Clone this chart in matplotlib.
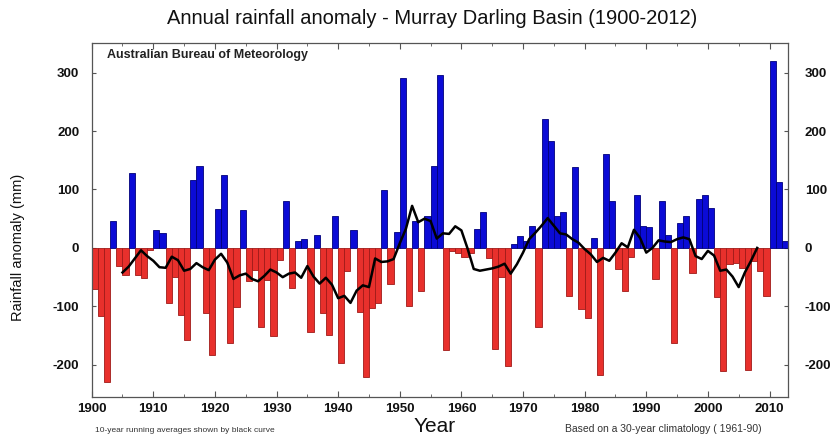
import matplotlib
matplotlib.use("Agg")
import matplotlib.pyplot as plt
from matplotlib.ticker import MultipleLocator

plt.rcParams['font.family'] = ['Liberation Sans', 'DejaVu Sans']
plt.rcParams['axes.unicode_minus'] = False

first_year = 1900
anomaly_mm = [
    -70, -116, -229, 46, -31, -46, 129, -46, -51, -3,          # 1900s
    31, 25, -94, -49, -114, -157, 117, 141, -111, -183,        # 1910s
    66, 125, -162, -101, 65, -57, -37, -135, -55, -151,        # 1920s
    -20, 80, -68, 12, 15, -143, 22, -111, -149, 54,            # 1930s
    -197, -40, 30, -110, -220, -103, -95, 99, -61, 27,         # 1940s
    290, -100, 46, -73, 54, 140, 296, -175, -5, -9,            # 1950s
    -15, -9, 32, 62, -17, -173, -50, -202, 7, 20,              # 1960s
    11, 38, -135, 220, 183, 54, 61, -83, 139, -105,            # 1970s
    -120, 17, -218, 160, 80, -36, -74, -15, 91, 38,            # 1980s
    35, -54, 80, 22, -162, 43, 55, -43, 84, 90,                # 1990s
    69, -84, -210, -28, -25, -35, -209, -22, -40, -83,         # 2000s
    320, 113, 11,                                              # 2010-2012
]
years = list(range(first_year, first_year + len(anomaly_mm)))

running_first_year = 1905
running_mean_mm = [
    -42, -32, -18, -4, -14, -22, -33, -34, -15, -21,
    -39, -36, -26, -33, -38, -20, -10, -25, -53, -47,
    -44, -53, -57, -48, -37, -42, -50, -44, -42, -51,
    -31, -49, -61, -51, -63, -86, -82, -94, -73, -64,
    -67, -18, -24, -23, -19, 8, 33, 72, 44, 50,
    46, 16, 25, 24, 37, 30, -1, -36, -39, -37,
    -35, -32, -27, -44, -28, -8, 15, 26, 38, 51,
    38, 25, 23, 15, 9, -2, -11, -24, -17, -22,
    -8, 8, 1, 31, 17, -8, 0, 13, 11, 10,
    15, 18, 15, -14, -19, -5, -13, -39, -37, -49,
    -67, -42, -22, 0,
]
running_years = list(range(running_first_year, running_first_year + len(running_mean_mm)))

ytick_values = [-200, -100, 0, 100, 200, 300]
xtick_values = list(range(1900, 2011, 10))

blue = '#0b0bd6'
blue_edge = '#00007a'
red = '#e8302c'
red_edge = '#a01a18'

fig = plt.figure(figsize=(8.35, 4.38), dpi=100)
ax = fig.add_axes([0.1098, 0.0936, 0.8339, 0.8075])

colors = [blue if v >= 0 else red for v in anomaly_mm]
edges = [blue_edge if v >= 0 else red_edge for v in anomaly_mm]
ax.bar(years, anomaly_mm, width=1.0, align='edge', color=colors,
       edgecolor=edges, linewidth=0.6, zorder=2)
ax.plot(running_years, running_mean_mm, color='black', linewidth=1.8, zorder=3)

ax.set_xlim(1900, 2013)
ax.set_ylim(-255, 350)
ax.set_xticks(xtick_values)
ax.xaxis.set_minor_locator(MultipleLocator(5))
ax.set_yticks(ytick_values)

frame_col = '#555555'
for s in ax.spines.values():
    s.set_color(frame_col)
    s.set_linewidth(0.9)

ax.tick_params(axis='both', which='both', direction='in', colors=frame_col,
               labelcolor='#111111', top=True, right=True)
ax.tick_params(axis='x', which='major', length=4, labelsize=9.5, pad=4)
ax.tick_params(axis='x', which='minor', length=2.5)
ax.tick_params(axis='y', which='major', length=3, labelsize=9.5, pad=9,
               right=True, labelright=True)
for lab in ax.get_xticklabels() + ax.get_yticklabels():
    lab.set_fontweight('bold')
for t in ax.yaxis.get_major_ticks():
    t.label2.set_fontweight('bold')
    t.label2.set_fontsize(9.5)
    t.label2.set_x(1.006)

fig.text(0.517, 0.958, 'Annual rainfall anomaly - Murray Darling Basin (1900-2012)',
         ha='center', va='center', fontsize=14.5, color='#111111')
ax.text(0.022, 0.967, 'Australian Bureau of Meteorology', transform=ax.transAxes,
        ha='left', va='center', fontsize=9, fontweight='bold', color='#222222')
fig.text(0.022, 0.436, 'Rainfall anomaly (mm)', rotation=90, ha='center', va='center',
         fontsize=10.5, color='#111111')
fig.text(0.521, 0.026, 'Year', ha='center', va='center', fontsize=15, color='#111111')
fig.text(0.114, 0.009, '10-year running averages shown by black curve',
         ha='left', va='bottom', fontsize=6, color='#333333')
fig.text(0.912, 0.009, 'Based on a 30-year climatology ( 1961-90)',
         ha='right', va='bottom', fontsize=7.5, color='#333333')

fig.savefig('out.png', dpi=100)
